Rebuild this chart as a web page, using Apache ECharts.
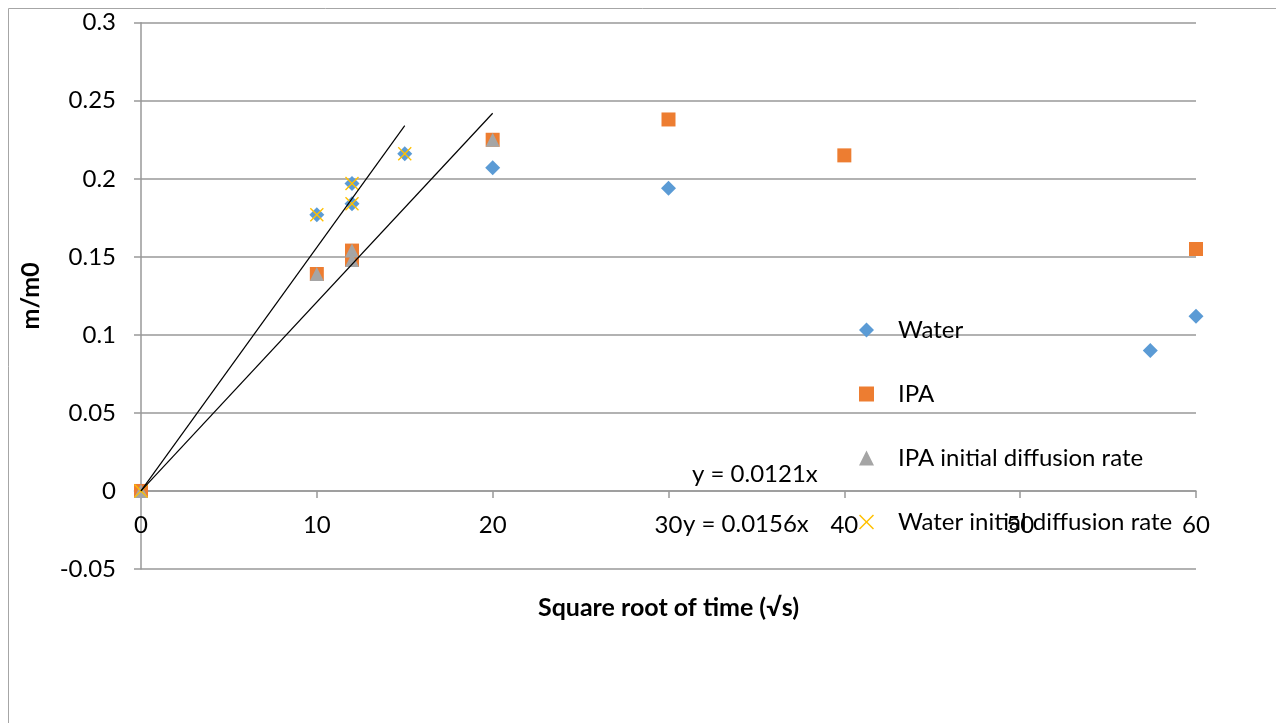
<!DOCTYPE html>
<html>
<head>
<meta charset="utf-8">
<script src="https://cdn.jsdelivr.net/npm/echarts@6/dist/echarts.min.js"></script>
<style>
  html, body { margin: 0; padding: 0; background: #fff; }
  #chart { width: 1276px; height: 723px; }
</style>
</head>
<body>
<div id="chart"></div>
<script>
// Mass uptake ratio against square root of time
const waterX = [0, 10, 12, 12, 15, 20, 30, 57.4, 60];
const waterY = [0, 0.177, 0.197, 0.184, 0.216, 0.207, 0.194, 0.090, 0.112];

const ipaX = [0, 10, 12, 12, 20, 30, 40, 60];
const ipaY = [0, 0.139, 0.154, 0.148, 0.225, 0.238, 0.215, 0.155];

const ipaInitX = [0, 10, 12, 12, 20];
const ipaInitY = [0, 0.139, 0.154, 0.148, 0.225];

const waterInitX = [0, 10, 12, 12, 15];
const waterInitY = [0, 0.177, 0.197, 0.184, 0.216];

// Linear fits through the origin (slope, x range end)
const fitSlopes = [0.0156, 0.0121];
const fitXEnd = [15, 20];
const fitLabels = ['y = 0.0156x', 'y = 0.0121x'];

const seriesNames = ['Water', 'IPA', 'IPA initial diffusion rate', 'Water initial diffusion rate'];

const FONT = 'Lato';
const pairs = (xs, ys) => xs.map((x, i) => [x, ys[i]]);
const crossPath = 'path://M0,0.7L0.7,0L5,4.3L9.3,0L10,0.7L5.7,5L10,9.3L9.3,10L5,5.7L0.7,10L0,9.3L4.3,5Z';

const chart = echarts.init(document.getElementById('chart'), null, { renderer: 'canvas' });

const fitSeries = fitSlopes.map((m, i) => ({
  name: 'fit' + i,
  type: 'line',
  data: [[0, 0], [fitXEnd[i], m * fitXEnd[i]]],
  symbol: 'none',
  lineStyle: { color: '#000', width: 1.2 },
  silent: true,
  z: 5
}));

chart.setOption({
  animation: false,
  textStyle: { fontFamily: FONT },
  grid: { left: 141, right: 80, top: 22.7, bottom: 154, containLabel: false },
  xAxis: {
    type: 'value', min: 0, max: 60, interval: 10,
    name: 'Square root of time (\u221As)',
    nameLocation: 'middle', nameGap: 26,
    nameTextStyle: { fontFamily: FONT, fontSize: 25, fontWeight: 'bold', color: '#000' },
    axisLine: { onZero: true, lineStyle: { color: '#999', width: 1.5 } },
    axisTick: { show: true, inside: false, length: 7, lineStyle: { color: '#999', width: 1.5 } },
    axisLabel: { fontFamily: FONT, fontSize: 24, color: '#000', margin: -56 },
    splitLine: { show: false }
  },
  yAxis: {
    type: 'value', min: -0.05, max: 0.3, interval: 0.05,
    name: 'm/m0',
    nameLocation: 'middle', nameGap: 98, nameRotate: 90,
    nameTextStyle: { fontFamily: FONT, fontSize: 25, fontWeight: 'bold', color: '#000' },
    axisLine: { show: true, onZero: false, lineStyle: { color: '#999', width: 1.5 } },
    axisTick: { show: true, inside: false, length: 7, lineStyle: { color: '#999', width: 1.5 } },
    axisLabel: { fontFamily: FONT, fontSize: 24, color: '#000', margin: 25,
      formatter: v => String(Math.round(v * 100) / 100) },
    splitLine: { show: true, lineStyle: { color: '#999', width: 1.5 } }
  },
  legend: {
    orient: 'vertical',
    left: 854, top: 311,
    data: seriesNames,
    itemWidth: 15, itemHeight: 15, itemGap: 36,
    textStyle: { fontFamily: FONT, fontSize: 24, color: '#000', lineHeight: 28, padding: [0, 0, 0, 19] }
  },
  graphic: [
    { type: 'rect', shape: { x: 8.5, y: 8.5, width: 1400, height: 900 },
      style: { fill: 'none', stroke: '#a6a6a6', lineWidth: 1 }, silent: true, z: -10 },
    { type: 'text', left: 683, top: 512, style: { text: fitLabels[0], font: '24px ' + FONT, fill: '#000' }, z: 10 },
    { type: 'text', left: 692, top: 462, style: { text: fitLabels[1], font: '24px ' + FONT, fill: '#000' }, z: 10 }
  ],
  series: [
    { name: seriesNames[0], type: 'scatter', data: pairs(waterX, waterY),
      symbol: 'diamond', symbolSize: 15, itemStyle: { color: '#5b9bd5', opacity: 1 }, z: 2 },
    { name: seriesNames[1], type: 'scatter', data: pairs(ipaX, ipaY),
      symbol: 'rect', symbolSize: 14, itemStyle: { color: '#ed7d31', opacity: 1 }, z: 2 },
    { name: seriesNames[2], type: 'scatter', data: pairs(ipaInitX, ipaInitY),
      symbol: 'triangle', symbolSize: 14, itemStyle: { color: '#a5a5a5', opacity: 1 }, z: 3 },
    { name: seriesNames[3], type: 'scatter', data: pairs(waterInitX, waterInitY),
      symbol: crossPath, symbolSize: 14, itemStyle: { color: '#ffc000', opacity: 1 }, z: 3 },
    ...fitSeries
  ]
});
</script>
</body>
</html>
